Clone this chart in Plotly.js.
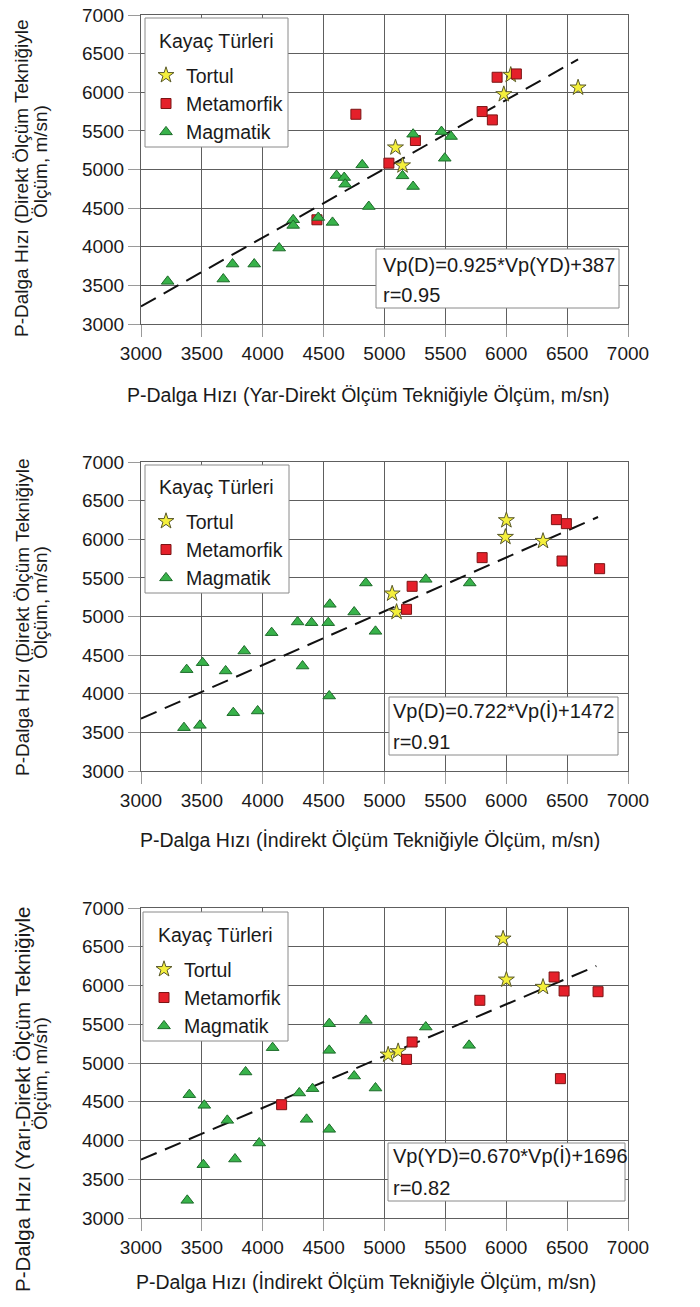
<!DOCTYPE html>
<html><head><meta charset="utf-8">
<script src="https://cdn.plot.ly/plotly-3.0.1.min.js"></script>
<style>html,body{margin:0;padding:0;background:#fff}</style>
</head><body><div id="chart" style="width:700px;height:1307px"></div>
<script>
// ---------- Panel 1: Vp(D) vs Vp(YD) ----------
const p1TortulX = [6037, 5980, 6590, 5090, 5148];
const p1TortulY = [6224, 5974, 6060, 5284, 5052];
const p1MetaX = [5925, 6083, 4765, 5802, 5886, 5254, 5036, 4445];
const p1MetaY = [6194, 6237, 5715, 5750, 5642, 5375, 5082, 4349];
const p1MagX = [5235, 5468, 5547, 5495, 4817, 4606, 4669, 4677, 5148, 5235, 4871, 4456, 4250, 4250, 4573, 4135, 3752, 3930, 3676, 3219];
const p1MagY = [5457, 5491, 5427, 5146, 5060, 4922, 4896, 4810, 4918, 4780, 4521, 4379, 4349, 4276, 4315, 3983, 3776, 3776, 3582, 3552];
const p1FitX = [3000, 6590];
const p1FitY = [3228, 6426];

// ---------- Panel 2: Vp(D) vs Vp(İ) ----------
const p2TortulX = [6001, 5993, 6302, 5063, 5099];
const p2TortulY = [6245, 6029, 5977, 5296, 5058];
const p2MetaX = [6412, 6494, 5802, 6458, 6767, 5227, 5181];
const p2MetaY = [6254, 6202, 5762, 5718, 5619, 5391, 5093];
const p2MagX = [4847, 5339, 5700, 4551, 4751, 4286, 4401, 4538, 4926, 4073, 3848, 3506, 3375, 3695, 4327, 4546, 3758, 3958, 3353, 3484];
const p2MagY = [5434, 5481, 5434, 5158, 5058, 4929, 4920, 4920, 4808, 4791, 4553, 4402, 4312, 4295, 4359, 3971, 3755, 3777, 3561, 3591];
const p2FitX = [3000, 6754];
const p2FitY = [3677, 6288];

// ---------- Panel 3: Vp(YD) vs Vp(İ) ----------
const p3TortulX = [5974, 6001, 6302, 5030, 5112];
const p3TortulY = [6604, 6075, 5981, 5107, 5151];
const p3MetaX = [6393, 6475, 6754, 5783, 5227, 5181, 6445, 4155];
const p3MetaY = [6110, 5929, 5920, 5809, 5271, 5047, 4798, 4462];
const p3MagX = [4847, 4546, 5339, 5695, 4081, 4546, 4751, 3859, 4409, 4926, 4300, 3397, 3520, 3709, 4360, 4546, 3971, 3772, 3512, 3380];
const p3MagY = [5550, 5507, 5464, 5228, 5198, 5163, 4832, 4884, 4669, 4677, 4613, 4591, 4454, 4260, 4273, 4144, 3968, 3761, 3688, 3228];
const p3FitX = [3000, 6740];
const p3FitY = [3753, 6252];

const tickVals = [3000, 3500, 4000, 4500, 5000, 5500, 6000, 6500, 7000];
const tickText = ['3000', '3500', '4000', '4500', '5000', '5500', '6000', '6500', '7000'];

const legendTitle = 'Kayaç Türleri';
const seriesNames = ['Tortul', 'Metamorfik', 'Magmatik'];
const formulas = [
  ['Vp(D)=0.925*Vp(YD)+387', 'r=0.95'],
  ['Vp(D)=0.722*Vp(İ)+1472', 'r=0.91'],
  ['Vp(YD)=0.670*Vp(İ)+1696', 'r=0.82']
];
const xTitles = [
  'P-Dalga Hızı (Yar-Direkt Ölçüm Tekniğiyle Ölçüm, m/sn)',
  'P-Dalga Hızı (İndirekt Ölçüm Tekniğiyle Ölçüm, m/sn)',
  'P-Dalga Hızı (İndirekt Ölçüm Tekniğiyle Ölçüm, m/sn)'
];
const yTitles = [
  ['P-Dalga Hızı (Direkt Ölçüm Tekniğiyle', 'Ölçüm, m/sn)'],
  ['P-Dalga Hızı (Direkt Ölçüm Tekniğiyle', 'Ölçüm, m/sn)'],
  ['P-Dalga Hızı (Yarı-Direkt Ölçüm Tekniğiyle', 'Ölçüm, m/sn)']
];

// ---------- geometry helpers (pixel -> paper) ----------
const W = 700, H = 1307;
const L = 141, R = 628, T = 15, B = 1218;
const px = v => (v - L) / (R - L);
const py = v => (B - v) / (B - T);

const FONT = 'Liberation Sans, Arial, Helvetica, sans-serif';
const TXT = '#1a1a1a';

const panels = [
  {tx: p1TortulX, ty: p1TortulY, mx: p1MetaX, my: p1MetaY, gx: p1MagX, gy: p1MagY, fx: p1FitX, fy: p1FitY},
  {tx: p2TortulX, ty: p2TortulY, mx: p2MetaX, my: p2MetaY, gx: p2MagX, gy: p2MagY, fx: p2FitX, fy: p2FitY},
  {tx: p3TortulX, ty: p3TortulY, mx: p3MetaX, my: p3MetaY, gx: p3MagX, gy: p3MagY, fx: p3FitX, fy: p3FitY}
];

// pixel geometry for each panel
const geo = [
  {top: 15, bot: 324, legBox: [145, 18, 288, 147], legTitle: [157, 41], legItems: 56,
   box: [376, 249, 619, 308], fl: [381, 265, 295], xt: [368, 395], yt1: [22, 179], yt2: [40, 162], yt1size: 19},
  {top: 462, bot: 771, legBox: [145, 465, 289, 593], legTitle: [157, 487], legItems: 502,
   box: [389, 697, 618, 755], fl: [391, 711, 742], xt: [370, 840], yt1: [22, 618], yt2: [40, 603], yt1size: 19},
  {top: 908, bot: 1218, legBox: [143, 912, 288, 1041], legTitle: [156, 935], legItems: 950,
   box: [388, 1143, 625, 1201], fl: [391, 1156, 1188], xt: [366, 1282], yt1: [22, 1100], yt2: [40, 1074], yt1size: 20.5}
];

const data = [];
const layout = {
  width: W, height: H,
  margin: {l: L, r: W - R, t: T, b: H - B, pad: 0},
  paper_bgcolor: '#ffffff', plot_bgcolor: '#ffffff',
  font: {family: FONT, size: 19, color: TXT},
  showlegend: true,
  annotations: [], shapes: []
};

panels.forEach((p, i) => {
  const n = i === 0 ? '' : String(i + 1);
  const xa = 'x' + n, ya = 'y' + n;
  const leg = 'legend' + n;
  data.push({x: p.fx, y: p.fy, xaxis: xa, yaxis: ya, mode: 'lines', showlegend: false, hoverinfo: 'skip',
    line: {color: '#111', width: 2, dash: '17px,9px'}});
  data.push({x: p.tx, y: p.ty, xaxis: xa, yaxis: ya, mode: 'markers', name: seriesNames[0], legend: leg,
    marker: {symbol: 'star', size: 12, color: '#f4ef3c', line: {color: '#5a5a2a', width: 1}}});
  data.push({x: p.mx, y: p.my, xaxis: xa, yaxis: ya, mode: 'markers', name: seriesNames[1], legend: leg,
    marker: {symbol: 'square', size: 10, color: '#e5202a', line: {color: '#7a1414', width: 1}}});
  data.push({x: p.gx, y: p.gy, xaxis: xa, yaxis: ya, mode: 'markers', name: seriesNames[2], legend: leg,
    marker: {symbol: 'triangle-up', size: 11, color: '#38b24a', line: {color: '#1d6b2a', width: 1}}});

  const g = geo[i];
  const axCommon = {
    range: [3000, 7000], tickmode: 'array', tickvals: tickVals, ticktext: tickText,
    showgrid: true, gridcolor: '#5e5e5e', gridwidth: 1, zeroline: false,
    showline: true, linecolor: '#5e5e5e', linewidth: 1, mirror: true,
    ticks: 'outside', ticklen: 12, tickcolor: '#9a9a9a', tickwidth: 1,
    tickfont: {family: FONT, size: 19, color: TXT}, fixedrange: true
  };
  layout['xaxis' + n] = Object.assign({}, axCommon, {anchor: ya, domain: [0, 1]});
  layout['yaxis' + n] = Object.assign({}, axCommon, {anchor: xa, domain: [py(g.bot), py(g.top)]});

  // legend: box + title drawn as shape/annotation, items by Plotly legend
  layout.shapes.push({type: 'rect', xref: 'paper', yref: 'paper',
    x0: px(g.legBox[0]), x1: px(g.legBox[2]), y0: py(g.legBox[3]), y1: py(g.legBox[1]),
    line: {color: '#8a8a8a', width: 1}, fillcolor: '#ffffff', layer: 'above'});
  layout.annotations.push({xref: 'paper', yref: 'paper', x: px(g.legTitle[0]), y: py(g.legTitle[1]),
    xanchor: 'left', yanchor: 'middle', text: legendTitle, showarrow: false,
    font: {family: FONT, size: 19.5, color: TXT}});
  layout[leg] = {
    x: px(g.legBox[0] + 1), y: py(g.legItems), xref: 'paper', yref: 'paper', xanchor: 'left', yanchor: 'top',
    bgcolor: 'rgba(0,0,0,0)', borderwidth: 0,
    font: {family: FONT, size: 19.5, color: TXT},
    tracegroupgap: 0, itemwidth: 30
  };

  // regression formula box
  layout.shapes.push({type: 'rect', xref: 'paper', yref: 'paper',
    x0: px(g.box[0]), x1: px(g.box[2]), y0: py(g.box[3]), y1: py(g.box[1]),
    line: {color: '#8a8a8a', width: 1}, fillcolor: '#ffffff', layer: 'above'});
  layout.annotations.push({xref: 'paper', yref: 'paper', x: px(g.fl[0]), y: py(g.fl[1]), xanchor: 'left', yanchor: 'middle',
    text: formulas[i][0], showarrow: false, font: {family: FONT, size: 20, color: TXT}});
  layout.annotations.push({xref: 'paper', yref: 'paper', x: px(g.fl[0]), y: py(g.fl[2]), xanchor: 'left', yanchor: 'middle',
    text: formulas[i][1], showarrow: false, font: {family: FONT, size: 20, color: TXT}});

  // axis titles
  layout.annotations.push({xref: 'paper', yref: 'paper', x: px(g.xt[0]), y: py(g.xt[1]), xanchor: 'center', yanchor: 'middle',
    text: xTitles[i], showarrow: false, font: {family: FONT, size: 19.5, color: TXT}});
  layout.annotations.push({xref: 'paper', yref: 'paper', x: px(g.yt1[0]), y: py(g.yt1[1]), xanchor: 'center', yanchor: 'middle',
    text: yTitles[i][0], textangle: -90, showarrow: false, font: {family: FONT, size: g.yt1size, color: TXT}});
  layout.annotations.push({xref: 'paper', yref: 'paper', x: px(g.yt2[0]), y: py(g.yt2[1]), xanchor: 'center', yanchor: 'middle',
    text: yTitles[i][1], textangle: -90, showarrow: false, font: {family: FONT, size: 19, color: TXT}});
});

Plotly.newPlot('chart', data, layout, {displayModeBar: false, staticPlot: true});
</script>
</body></html>
